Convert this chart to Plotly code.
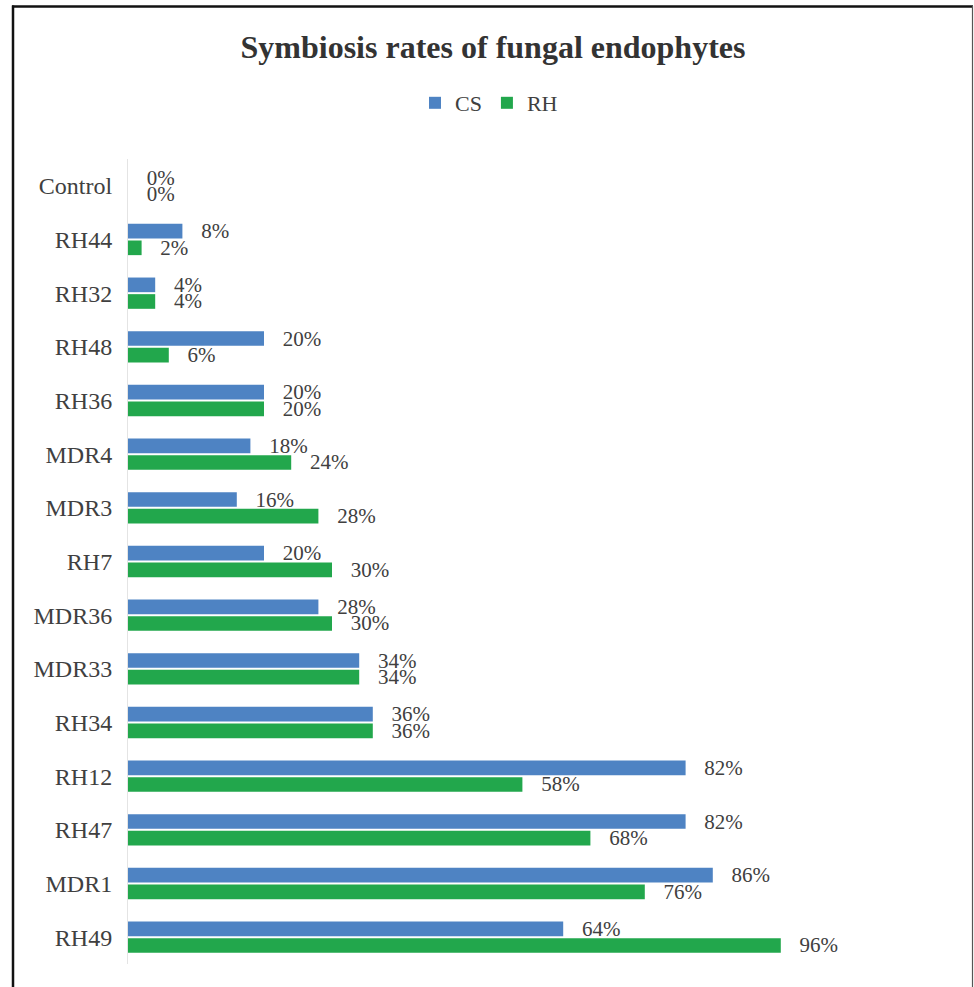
import plotly.graph_objects as go

# Symbiosis rates (%) per fungal isolate, listed top to bottom
categories = ["Control", "RH44", "RH32", "RH48", "RH36", "MDR4", "MDR3", "RH7",
              "MDR36", "MDR33", "RH34", "RH12", "RH47", "MDR1", "RH49"]
cs_rates = [0, 8, 4, 20, 20, 18, 16, 20, 28, 34, 36, 82, 82, 86, 64]
rh_rates = [0, 2, 4, 6, 20, 24, 28, 30, 30, 34, 36, 58, 68, 76, 96]

series_names = ["CS", "RH"]
series_colors = ["#4e83c3", "#22a74c"]

W, H = 974, 987
M_L, M_R, M_T, M_B = 128, 30, 159, 23
FONT = "Liberation Serif, Times New Roman, serif"
TEXT_COLOR = "#404040"
NBSP = "\u00a0"

fig = go.Figure()
for name, vals, color in zip(series_names, [cs_rates, rh_rates], series_colors):
    fig.add_trace(go.Bar(
        name=name,
        y=categories,
        x=vals,
        orientation="h",
        marker=dict(color=color, line=dict(width=0)),
        text=[f"{NBSP * 3}{v}%" for v in vals],
        textposition="outside",
        textfont=dict(family=FONT, size=21, color=TEXT_COLOR),
        constraintext="none",
        cliponaxis=False,
        hoverinfo="x+y",
    ))

# outer frame around the chart, in plot-area (paper) units
pw = W - M_L - M_R
ph = H - M_T - M_B


def px_x(px):
    return (px - M_L) / pw


def px_y(py):
    return (H - M_B - py) / ph


frame = [
    dict(x0=px_x(13), x1=px_x(13), y0=px_y(1000), y1=px_y(5.5), color="#111111", width=2.5),
    dict(x0=px_x(12), x1=px_x(973), y0=px_y(6.5), y1=px_y(6.5), color="#111111", width=2.5),
    dict(x0=px_x(972.5), x1=px_x(972.5), y0=px_y(1000), y1=px_y(6), color="#555555", width=1.2),
]
for f in frame:
    fig.add_shape(type="line", xref="paper", yref="paper",
                  x0=f["x0"], x1=f["x1"], y0=f["y0"], y1=f["y1"],
                  line=dict(color=f["color"], width=f["width"]), layer="above")

fig.update_layout(
    width=W, height=H,
    margin=dict(l=M_L, r=M_R, t=M_T, b=M_B, autoexpand=False),
    paper_bgcolor="white",
    plot_bgcolor="white",
    barmode="group",
    bargap=0.38,
    bargroupgap=0.12,
    title=dict(
        text="<b>Symbiosis rates of fungal endophytes</b>",
        font=dict(family=FONT, size=32, color="#333333"),
        x=493 / W, xanchor="center", xref="container",
        y=1 - 47 / H, yanchor="middle", yref="container",
    ),
    legend=dict(
        orientation="h",
        x=489 / W, xanchor="center", xref="container",
        y=1 - 103 / H, yanchor="middle", yref="container",
        font=dict(family=FONT, size=22, color=TEXT_COLOR),
        itemwidth=30,
        traceorder="normal",
        tracegroupgap=0,
    ),
    xaxis=dict(
        range=[0, 120],
        showticklabels=False,
        showgrid=False,
        zeroline=False,
        showline=False,
        ticks="",
    ),
    yaxis=dict(
        autorange="reversed",
        showgrid=False,
        zeroline=False,
        showline=True,
        linecolor="#e4e4e4",
        linewidth=1,
        ticks="",
        ticklabelstandoff=10,
        tickfont=dict(family=FONT, size=24, color=TEXT_COLOR),
    ),
    showlegend=True,
)

fig.write_html("out.html")
